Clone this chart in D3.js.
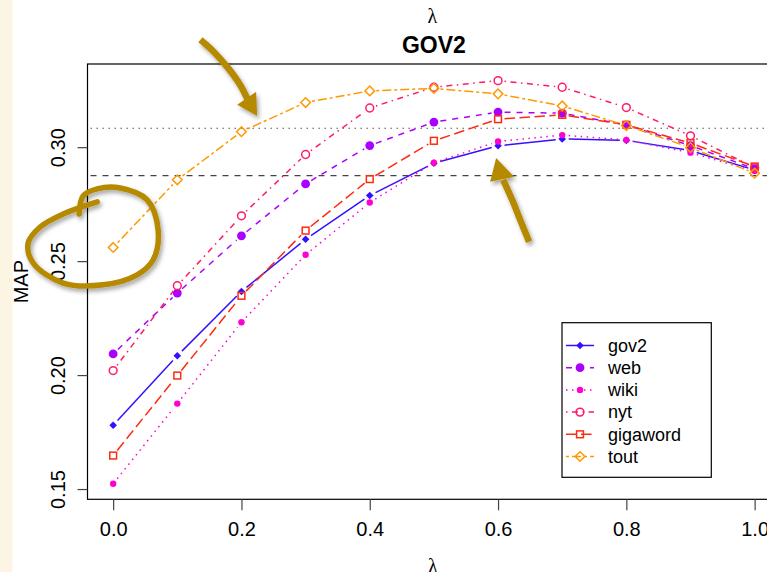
<!DOCTYPE html>
<html>
<head>
<meta charset="utf-8">
<script src="https://cdn.jsdelivr.net/npm/d3@7"></script>
<style>
  html, body { margin: 0; padding: 0; background: #ffffff; }
  svg { display: block; }
  text { font-family: "Liberation Sans", Arial, Helvetica, sans-serif; fill: #000; }
</style>
</head>
<body>
<svg id="chart" width="767" height="572"></svg>
<script>
// λ grid and MAP per collection
const lambda   = [0, 0.1, 0.2, 0.3, 0.4, 0.5, 0.6, 0.7, 0.8, 0.9, 1.0];
const gov2     = [0.1780, 0.2085, 0.2367, 0.2596, 0.2788, 0.2930, 0.3006, 0.3036, 0.3030, 0.2985, 0.2900];
const web      = [0.2093, 0.2360, 0.2611, 0.2839, 0.3007, 0.3110, 0.3154, 0.3149, 0.3098, 0.3007, 0.2905];
const wiki     = [0.1523, 0.1875, 0.2232, 0.2528, 0.2757, 0.2932, 0.3025, 0.3053, 0.3032, 0.2976, 0.2895];
const nyt      = [0.2020, 0.2392, 0.2699, 0.2968, 0.3172, 0.3263, 0.3292, 0.3263, 0.3174, 0.3050, 0.2910];
const gigaword = [0.1647, 0.1998, 0.2348, 0.2634, 0.2860, 0.3028, 0.3123, 0.3142, 0.3098, 0.3018, 0.2915];
const tout     = [0.2560, 0.2857, 0.3068, 0.3196, 0.3247, 0.3258, 0.3234, 0.3181, 0.3095, 0.2998, 0.2886];

const seriesNames = ["gov2", "web", "wiki", "nyt", "gigaword", "tout"];
const seriesValues = [gov2, web, wiki, nyt, gigaword, tout];

// horizontal reference levels (dotted, dashed)
const refDotted = [0.3083];
const refDashed = [0.2875];

const xTicks = [0, 0.2, 0.4, 0.6, 0.8, 1.0];
const yTicks = [0.15, 0.20, 0.25, 0.30];

// hand-drawn highlight strokes, in (λ, MAP) units
const arrow1Shaft = [[0.136, 0.3471], [0.157, 0.3418], [0.179, 0.3348], [0.198, 0.3273], [0.210, 0.3207]];
const arrow1Head  = [[0.2245, 0.3137], [0.1933, 0.3186], [0.2229, 0.3243]];
const arrow2Shaft = [[0.6485, 0.2585], [0.6345, 0.2681], [0.6220, 0.2769], [0.6080, 0.2857]];
const arrow2Head  = [[0.5970, 0.2953], [0.5877, 0.2848], [0.6251, 0.2870]];
const loopStroke  = [[-0.0530, 0.2707], [-0.0468, 0.2786], [-0.0249, 0.2817], [0.0109, 0.2821],
                     [0.0530, 0.2769], [0.0701, 0.2637], [0.0624, 0.2506], [0.0374, 0.2440],
                     [-0.0156, 0.2396], [-0.0779, 0.2404], [-0.1247, 0.2492], [-0.1325, 0.2580],
                     [-0.1138, 0.2650], [-0.0779, 0.2707], [-0.0249, 0.2760]];

// styling per series: colour, dash pattern, point symbol
const styles = {
  gov2:     { color: "#3311ff", dash: null,            pch: "diamondFilled" },
  web:      { color: "#aa00ff", dash: "6,6",           pch: "circleBig" },
  wiki:     { color: "#ff00d4", dash: "1.5,4.5",       pch: "circleSmall" },
  nyt:      { color: "#ff1a6a", dash: "1.5,4.5,6,4.5", pch: "circleOpen" },
  gigaword: { color: "#ff2a12", dash: "10.5,4.5",      pch: "squareOpen" },
  tout:     { color: "#ff9900", dash: "3,3,9,3",       pch: "diamondOpen" }
};

const svg = d3.select("#chart");
const W = 767, H = 572;
const plotL = 87.5, plotR = 780.3, plotT = 64, plotB = 499.3;

// page side strip
svg.append("rect").attr("x", 0).attr("y", 0).attr("width", 12.5).attr("height", H).attr("fill", "#fcf5e4");

const x = d3.scaleLinear().domain([-0.04, 1.04]).range([plotL, plotR]);
const y = d3.scaleLinear().domain([0.1455, 0.3365]).range([plotB, plotT]);

// plot frame
svg.append("rect")
  .attr("x", plotL).attr("y", plotT)
  .attr("width", plotR - plotL).attr("height", plotB - plotT)
  .attr("fill", "none").attr("stroke", "#000").attr("stroke-width", 1.2);

// axes
const xAxis = svg.append("g").attr("transform", `translate(0,${plotB})`)
  .call(d3.axisBottom(x).tickValues(xTicks).tickFormat(d3.format(".1f")).tickSize(11).tickSizeOuter(0).tickPadding(12));
xAxis.select(".domain").remove();
xAxis.selectAll(".tick line").attr("stroke", "#444").attr("stroke-width", 1.2);
xAxis.selectAll(".tick text").attr("font-size", 20).attr("font-family", "Liberation Sans, Arial, sans-serif").attr("fill", "#000");

const yAxis = svg.append("g").attr("transform", `translate(${plotL},0)`)
  .call(d3.axisLeft(y).tickValues(yTicks).tickFormat(d3.format(".2f")).tickSize(10).tickSizeOuter(0));
yAxis.select(".domain").remove();
yAxis.selectAll(".tick line").attr("stroke", "#444").attr("stroke-width", 1.2);
yAxis.selectAll(".tick text")
  .attr("font-size", 20).attr("font-family", "Liberation Sans, Arial, sans-serif").attr("fill", "#000")
  .attr("text-anchor", "middle").attr("x", null).attr("dy", null)
  .attr("transform", "translate(-22.5,0) rotate(-90)");

// axis titles and main title
svg.append("text").attr("x", (plotL + plotR) / 2 - 1.5).attr("y", 23)
  .attr("text-anchor", "middle").attr("font-size", 20)
  .style("font-family", "'Liberation Serif', 'DejaVu Serif', serif").text("λ");
svg.append("text").attr("x", (plotL + plotR) / 2).attr("y", 53)
  .attr("text-anchor", "middle").attr("font-size", 23).attr("font-weight", "bold").text("GOV2");
svg.append("text").attr("x", (plotL + plotR) / 2 - 1).attr("y", 573)
  .attr("text-anchor", "middle").attr("font-size", 20)
  .style("font-family", "'Liberation Serif', 'DejaVu Serif', serif").text("λ");
svg.append("text").attr("transform", `translate(27.5,${(plotT + plotB) / 2}) rotate(-90)`)
  .attr("text-anchor", "middle").attr("font-size", 20).text("MAP");

// reference levels
svg.selectAll("line.refDot").data(refDotted).enter().append("line")
  .attr("x1", plotL + 3).attr("x2", plotR).attr("y1", d => y(d)).attr("y2", d => y(d))
  .attr("stroke", "#555").attr("stroke-width", 1.2).attr("stroke-dasharray", "1.5,4.5");
svg.selectAll("line.refDash").data(refDashed).enter().append("line")
  .attr("x1", plotL + 3).attr("x2", plotR).attr("y1", d => y(d)).attr("y2", d => y(d))
  .attr("stroke", "#444").attr("stroke-width", 1.2).attr("stroke-dasharray", "6,6");

// point symbols
function drawSymbol(g, kind, cx, cy, color) {
  switch (kind) {
    case "diamondFilled": {
      const r = 3.8;
      g.append("path").attr("d", `M${cx},${cy - r}L${cx + r},${cy}L${cx},${cy + r}L${cx - r},${cy}Z`)
        .attr("fill", color);
      break;
    }
    case "circleBig":
      g.append("circle").attr("cx", cx).attr("cy", cy).attr("r", 4.4).attr("fill", color);
      break;
    case "circleSmall":
      g.append("circle").attr("cx", cx).attr("cy", cy).attr("r", 3.2).attr("fill", color);
      break;
    case "circleOpen":
      g.append("circle").attr("cx", cx).attr("cy", cy).attr("r", 3.9)
        .attr("fill", "none").attr("stroke", color).attr("stroke-width", 1.5);
      break;
    case "squareOpen": {
      const s = 3.4;
      g.append("rect").attr("x", cx - s).attr("y", cy - s).attr("width", 2 * s).attr("height", 2 * s)
        .attr("fill", "none").attr("stroke", color).attr("stroke-width", 1.5);
      break;
    }
    case "diamondOpen": {
      const r = 4.8;
      g.append("path").attr("d", `M${cx},${cy - r}L${cx + r},${cy}L${cx},${cy + r}L${cx - r},${cy}Z`)
        .attr("fill", "none").attr("stroke", color).attr("stroke-width", 1.5);
      break;
    }
  }
}

// lines with gaps around points, then points
const gap = 6.5;
seriesNames.forEach((name, si) => {
  const st = styles[name];
  const vals = seriesValues[si];
  const g = svg.append("g").attr("class", "series-" + name);
  for (let i = 0; i < lambda.length - 1; i++) {
    const x1 = x(lambda[i]), y1 = y(vals[i]);
    const x2 = x(lambda[i + 1]), y2 = y(vals[i + 1]);
    const len = Math.hypot(x2 - x1, y2 - y1);
    if (len <= 2 * gap) continue;
    const ux = (x2 - x1) / len, uy = (y2 - y1) / len;
    g.append("line")
      .attr("x1", x1 + ux * gap).attr("y1", y1 + uy * gap)
      .attr("x2", x2 - ux * gap).attr("y2", y2 - uy * gap)
      .attr("stroke", st.color).attr("stroke-width", 1.5)
      .attr("stroke-dasharray", st.dash);
  }
  lambda.forEach((l, i) => drawSymbol(g, st.pch, x(l), y(vals[i]), st.color));
});

// legend
const lgX = 562, lgY = 322.7, lgW = 149.3, lgH = 154.6;
const legend = svg.append("g");
legend.append("rect").attr("x", lgX).attr("y", lgY).attr("width", lgW).attr("height", lgH)
  .attr("fill", "#fff").attr("stroke", "#000").attr("stroke-width", 1.2);
seriesNames.forEach((name, i) => {
  const st = styles[name];
  const cy = lgY + 22.8 + i * 22.2;
  legend.append("line").attr("x1", lgX + 4).attr("x2", lgX + 32).attr("y1", cy).attr("y2", cy)
    .attr("stroke", st.color).attr("stroke-width", 1.5).attr("stroke-dasharray", st.dash);
  drawSymbol(legend, st.pch, lgX + 18, cy, st.color);
  legend.append("text").attr("x", lgX + 46).attr("y", cy + 6.3).attr("font-size", 18).text(name);
});

// highlight strokes
const defs = svg.append("defs");
const f = defs.append("filter").attr("id", "shadow").attr("x", "-20%").attr("y", "-20%").attr("width", "150%").attr("height", "150%");
f.append("feDropShadow").attr("dx", 2).attr("dy", 3).attr("stdDeviation", 2)
  .attr("flood-color", "#000").attr("flood-opacity", 0.35);

const hl = svg.append("g").attr("filter", "url(#shadow)");
const gold = "#b58900";
const curve = d3.line().x(d => x(d[0])).y(d => y(d[1])).curve(d3.curveCatmullRom.alpha(0.5));
const poly = d3.line().x(d => x(d[0])).y(d => y(d[1]));

hl.append("path").attr("d", curve(arrow1Shaft)).attr("fill", "none")
  .attr("stroke", gold).attr("stroke-width", 6.5).attr("stroke-linecap", "butt");
hl.append("path").attr("d", poly(arrow1Head) + "Z").attr("fill", gold);
hl.append("path").attr("d", curve(arrow2Shaft)).attr("fill", "none")
  .attr("stroke", gold).attr("stroke-width", 6.5).attr("stroke-linecap", "butt");
hl.append("path").attr("d", poly(arrow2Head) + "Z").attr("fill", gold);
hl.append("path").attr("d", curve(loopStroke)).attr("fill", "none")
  .attr("stroke", gold).attr("stroke-width", 5.5).attr("stroke-linecap", "round").attr("stroke-linejoin", "round");
</script>
</body>
</html>
